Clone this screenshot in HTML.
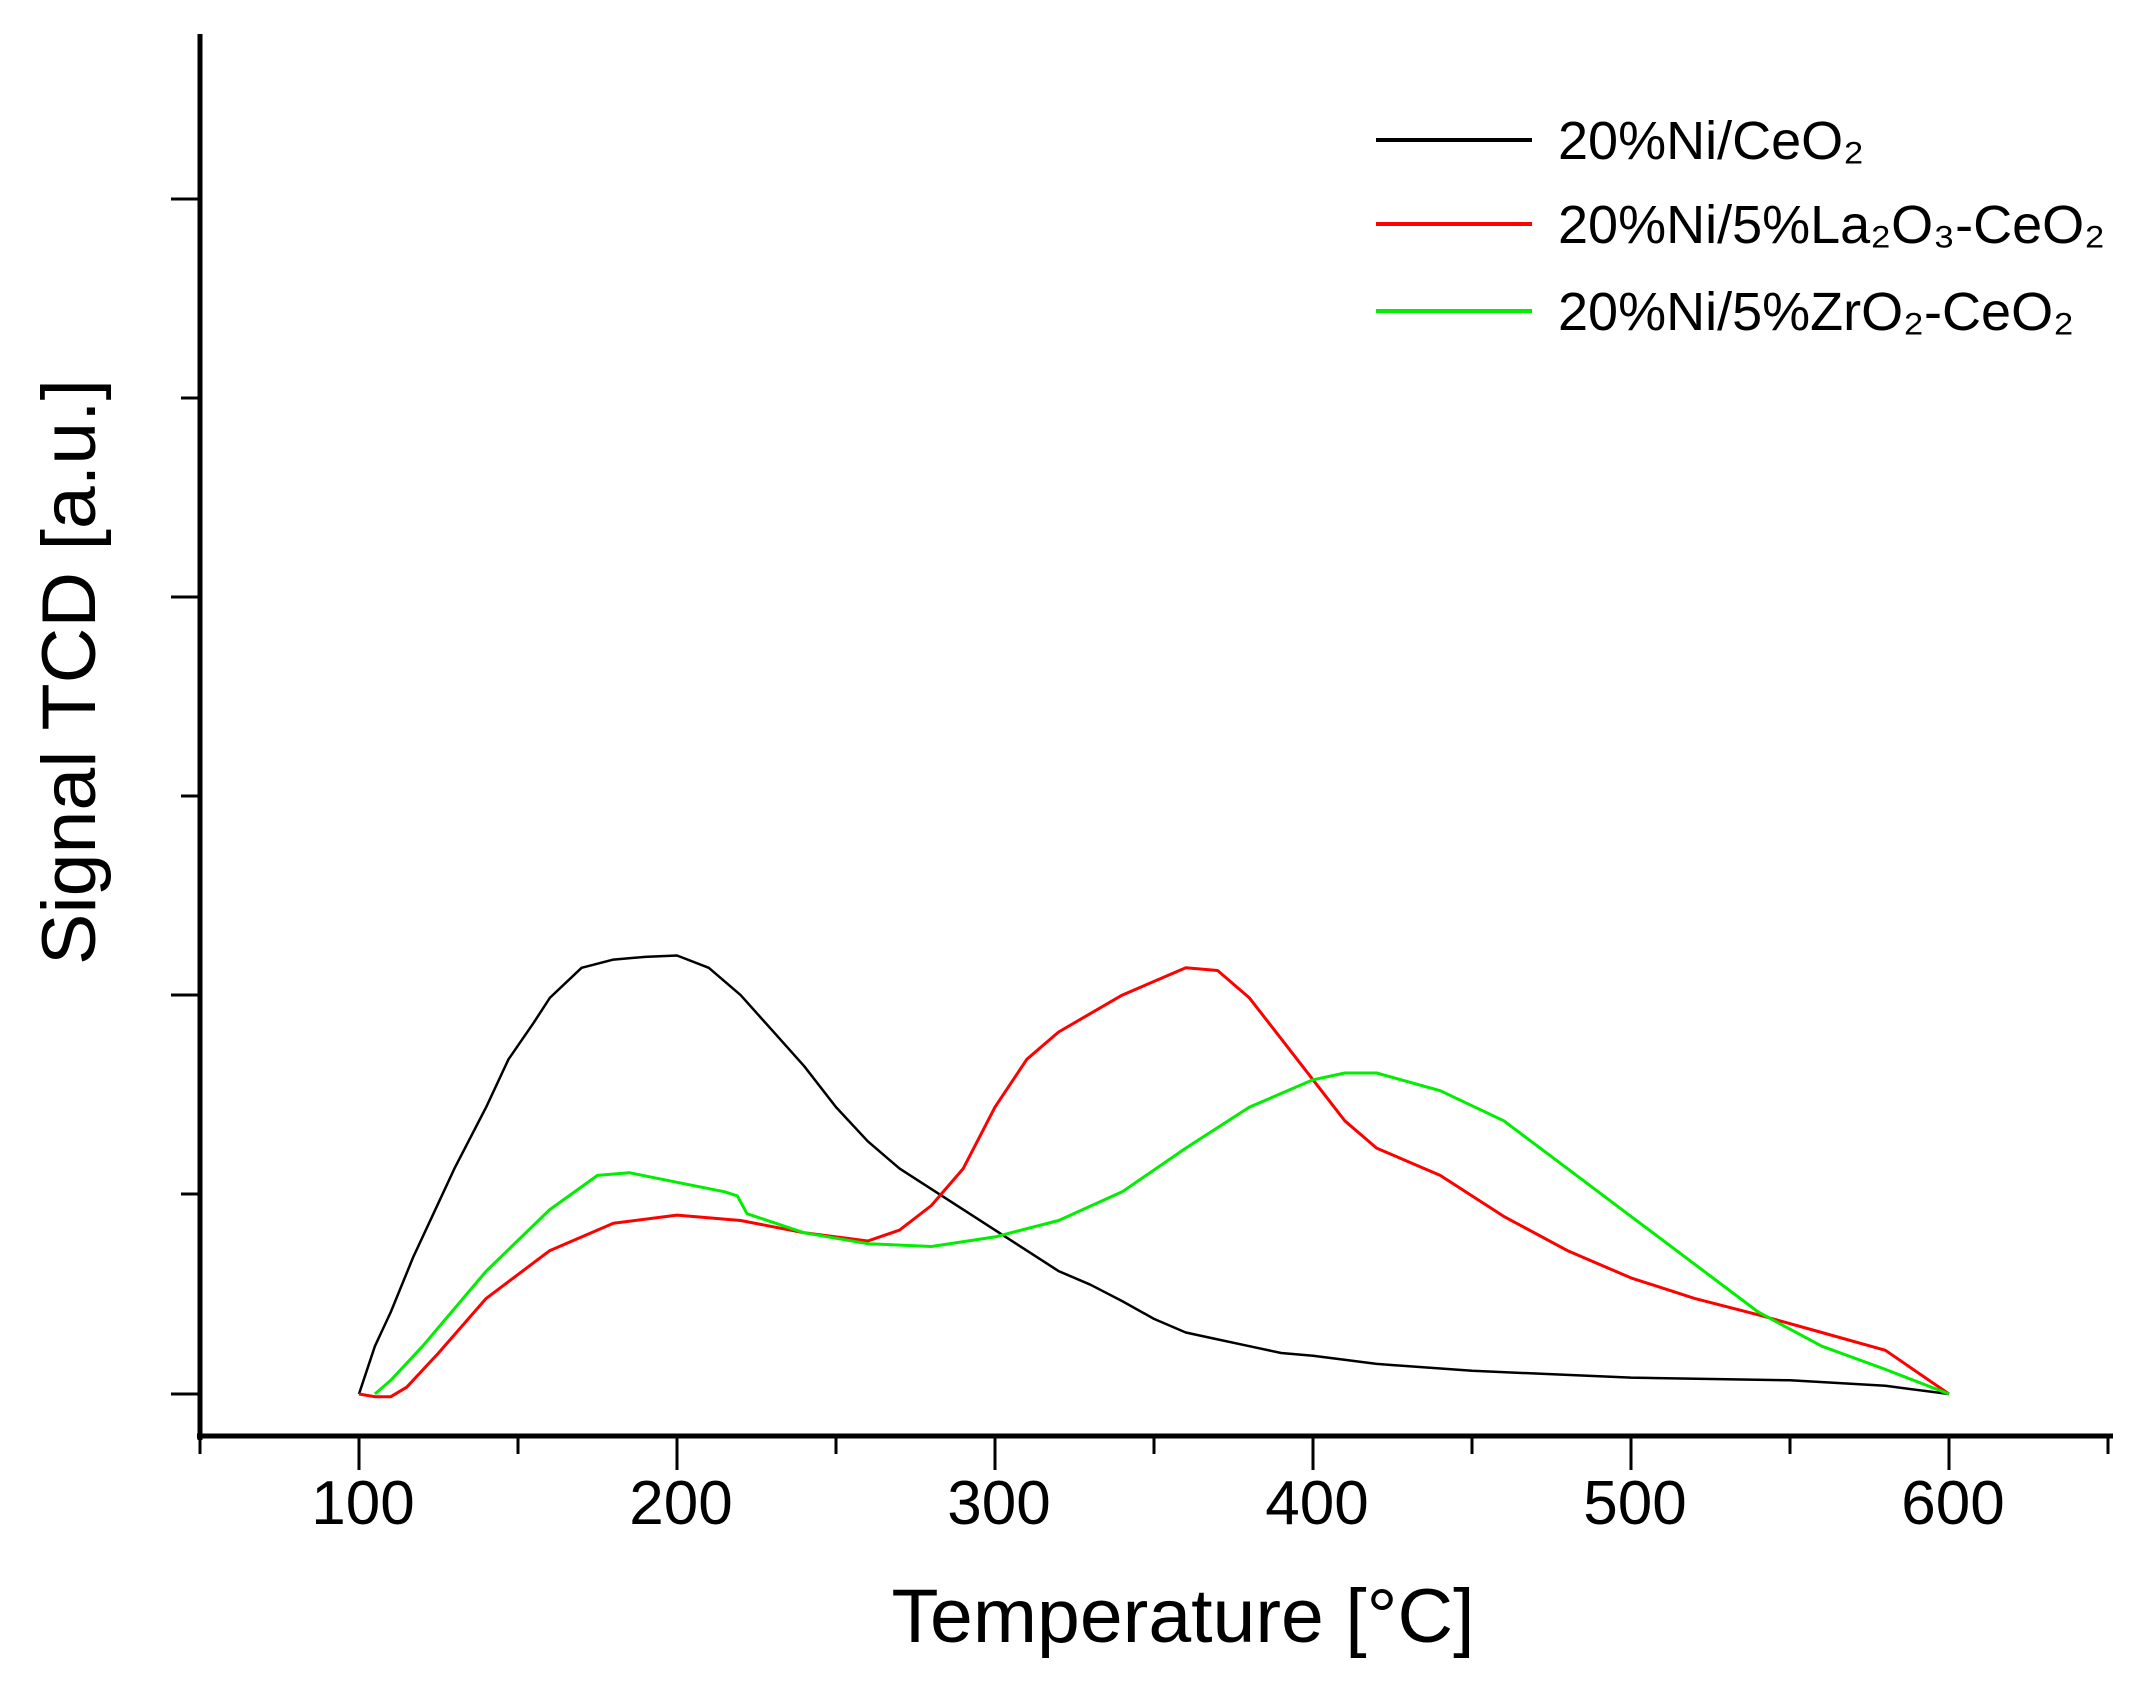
<!DOCTYPE html>
<html><head><meta charset="utf-8"><style>
html,body{margin:0;padding:0;background:#fff;}
svg{display:block;font-family:"Liberation Sans",sans-serif;}
</style></head><body>
<svg id="chart" width="2140" height="1682" viewBox="0 0 2140 1682">
<g id="axes"></g>
<g id="series"></g>
<g id="legend"></g>
<text x="1183" y="1642" font-size="76" text-anchor="middle" textLength="583" lengthAdjust="spacingAndGlyphs">Temperature [°C]</text>
<text transform="translate(95,672) rotate(-90)" font-size="76" text-anchor="middle" textLength="586" lengthAdjust="spacingAndGlyphs">Signal TCD [a.u.]</text>
</svg>
<script>
const xTickLabels=[100,200,300,400,500,600];
const blackT=[100,105,110,117,125,130,140,147,155,160,170,180,190,200,210,220,230,240,250,260,270,280,290,300,310,320,330,340,350,360,370,380,390,400,420,450,500,550,580,600];
const blackV=[0,35,60,100,140,165,210,245,272,290,312,318,320,321,312,292,266,240,210,185,165,150,135,120,105,90,80,68,55,45,40,35,30,28,22,17,12,10,6,0];
const redT=[100,105,110,115,125,140,160,180,200,220,240,260,270,280,290,300,310,320,340,360,370,380,390,400,410,420,440,460,480,500,520,540,560,580,600];
const redV=[0,-2,-2,5,30,70,105,125,131,127,118,112,120,138,165,210,245,265,292,312,310,290,260,230,200,180,160,130,105,85,70,58,45,32,0];
const greenT=[105,110,120,140,160,175,185,200,215,219,222,240,260,280,300,320,340,360,380,400,410,420,440,460,480,500,520,540,560,580,600];
const greenV=[0,10,35,90,135,160,162,155,148,145,132,118,110,108,115,127,148,180,210,230,235,235,222,200,165,130,95,60,35,18,0];
const seriesNames=["20%Ni/CeO₂","20%Ni/5%La₂O₃-CeO₂","20%Ni/5%ZrO₂-CeO₂"];
const NS="http://www.w3.org/2000/svg";
function X(t){return 359+(t-100)*3.18;}
function Y(v){return 1394-v*1.366;}
function mk(tag,attrs,parent){const e=document.createElementNS(NS,tag);for(const k in attrs)e.setAttribute(k,attrs[k]);parent.appendChild(e);return e;}
const axes=document.getElementById('axes');
let l=mk('line',{x1:200,y1:34,x2:200,y2:1440,stroke:'#000','stroke-width':5},axes);


l=mk('line',{x1:197,y1:1436,x2:2113,y2:1436,stroke:'#000','stroke-width':5},axes);


[199,398,597,796,995,1194,1394].forEach((y,i)=>{
 const len=(i%2===0)?29:19;
 const t=mk('line',{x1:200-len,y1:y,x2:200,y2:y,stroke:'#000','stroke-width':3},axes);
 
 
});
for(let v=50;v<=650;v+=50){
 const major=(v%100===0);
 const t=mk('line',{x1:X(v),y1:1436,x2:X(v),y2:1436+(major?34:18),stroke:'#000','stroke-width':3},axes);
 
 
}
xTickLabels.forEach(v=>{
 const t=mk('text',{x:X(v)+4,y:1524,'font-size':62,'text-anchor':'middle'},axes);
 t.textContent=v;
 
 
});
const sg=document.getElementById('series');
function draw(T,V,color,name,w){
 const d=T.map((t,i)=>(i?'L':'M')+X(t).toFixed(1)+','+Y(V[i]).toFixed(1)).join(' ');
 const p=mk('path',{d:d,fill:'none',stroke:color,'stroke-width':w,'stroke-linejoin':'round'},sg);
 
 
}
draw(blackT,blackV,'#000','series-ni-ceo2',2.5);
draw(redT,redV,'#ff0000','series-ni-la2o3-ceo2',3);
draw(greenT,greenV,'#00ee00','series-ni-zro2-ceo2',3);
const lg=document.getElementById('legend');
const cols=['#000','#ff0000','#00ee00'];
const ly=[140,224,311];
seriesNames.forEach((n,i)=>{
 const ln=mk('line',{x1:1376,y1:ly[i],x2:1532,y2:ly[i],stroke:cols[i],'stroke-width':4},lg);
 
 
 const t=mk('text',{x:1558,y:ly[i]+19,'font-size':54},lg);
 t.textContent=n;
 
 
});
</script>
</body></html>
